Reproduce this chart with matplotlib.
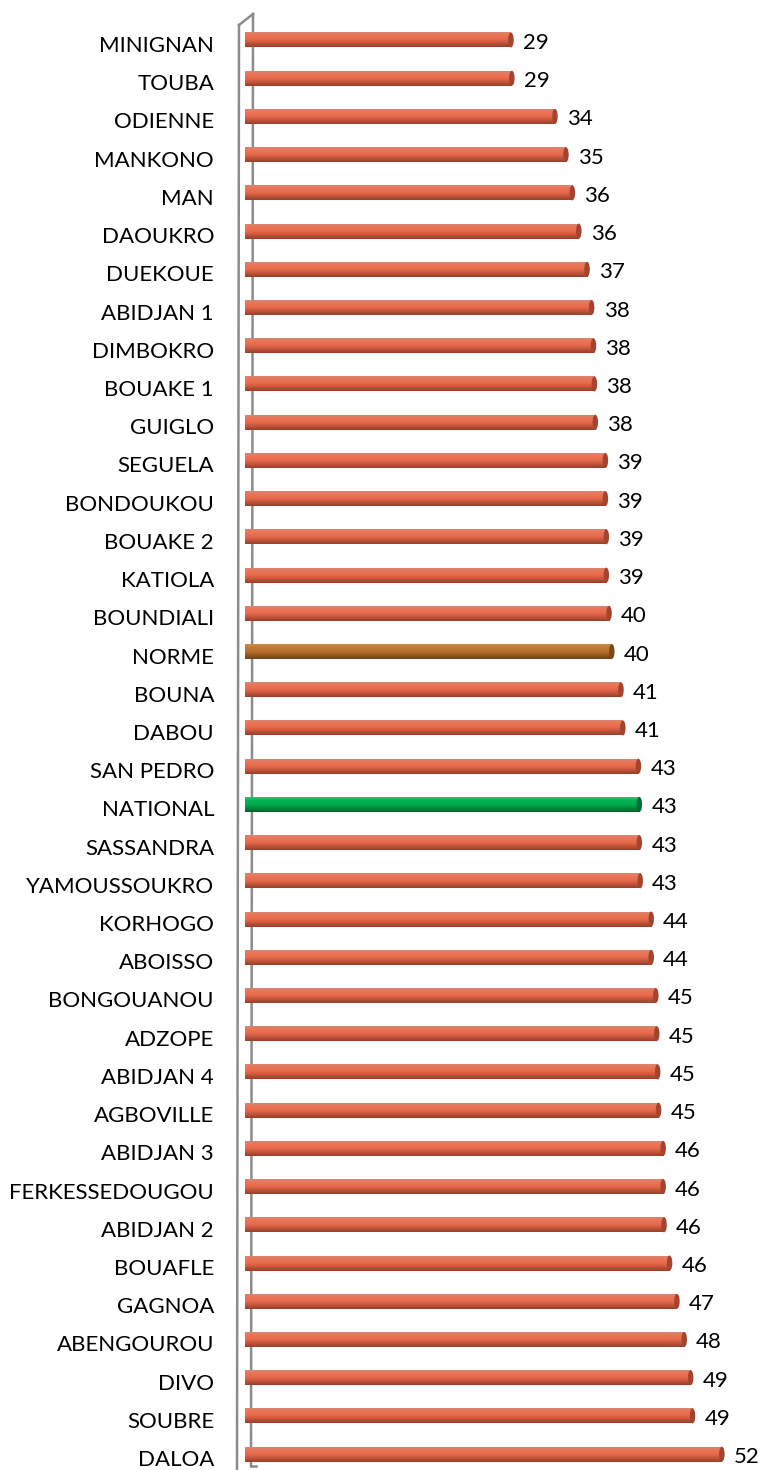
#!/usr/bin/env python3
"""
Horizontal cylinder-style bar chart of rates per district (Excel 3D look)
"""

import numpy as np
import matplotlib.pyplot as plt
from matplotlib.colors import LinearSegmentedColormap
from matplotlib.patches import Ellipse
from matplotlib.lines import Line2D
from matplotlib.transforms import blended_transform_factory

# Data (top to bottom)
districts = [
    'MINIGNAN', 'TOUBA', 'ODIENNE', 'MANKONO', 'MAN', 'DAOUKRO', 'DUEKOUE',
    'ABIDJAN 1', 'DIMBOKRO', 'BOUAKE 1', 'GUIGLO', 'SEGUELA', 'BONDOUKOU',
    'BOUAKE 2', 'KATIOLA', 'BOUNDIALI', 'NORME', 'BOUNA', 'DABOU', 'SAN PEDRO',
    'NATIONAL', 'SASSANDRA', 'YAMOUSSOUKRO', 'KORHOGO', 'ABOISSO', 'BONGOUANOU',
    'ADZOPE', 'ABIDJAN 4', 'AGBOVILLE', 'ABIDJAN 3', 'FERKESSEDOUGOU',
    'ABIDJAN 2', 'BOUAFLE', 'GAGNOA', 'ABENGOUROU', 'DIVO', 'SOUBRE', 'DALOA',
]
taux = [
    29.0, 29.1, 33.8, 35.0, 35.7, 36.4, 37.3,
    37.8, 38.0, 38.1, 38.2, 39.3, 39.3,
    39.4, 39.4, 39.7, 40.0, 41.0, 41.2, 42.9,
    43.0, 43.0, 43.1, 44.3, 44.3, 44.8,
    44.9, 45.0, 45.1, 45.6, 45.6,
    45.7, 46.3, 47.1, 47.9, 48.6, 48.8, 52.0,
]

# colour ramps (top highlight -> body -> shaded bottom) and end-cap colour
ramps = {
    'default': (['#dc8570', '#ec7253', '#e6694b', '#bf5339', '#96402b'], '#a4442f'),
    'NORME': (['#c98a4a', '#c37b35', '#b86f2c', '#935822', '#6a4218'], '#7a4a1a'),
    'NATIONAL': (['#35c070', '#00b452', '#00aa4c', '#00873c', '#00622c'], '#006b30'),
}

W, H = 761, 1470
px_per_unit = 9.17
x0_px = 245
row0_px, row_px = 40, 38.22
bar_px = 15

fig = plt.figure(figsize=(W / 100, H / 100), dpi=100)
ax = fig.add_axes([x0_px / W, 0, 1 - x0_px / W, 1])
ax.set_xlim(0, (W - x0_px) / px_per_unit)
ax.set_ylim((H - row0_px) / row_px, -row0_px / row_px)
ax.axis('off')

# 3D wall outline behind the bars
def fig_pt(x, y):
    return x / W, 1 - y / H

wall = [((239, 25), (237, 1470)), ((239, 25), (253, 14)),
        ((253, 14), (251, 1466)), ((251, 1466), (256, 1466))]
for (a, b) in wall:
    (xa, ya), (xb, yb) = fig_pt(*a), fig_pt(*b)
    fig.add_artist(Line2D([xa, xb], [ya, yb], color='#8c8c8c', lw=1.8,
                          transform=fig.transFigure, zorder=0))

h = bar_px / row_px
ypos = np.arange(len(districts))
bars = ax.barh(ypos, taux, height=h, color='none', edgecolor='none', zorder=2)

grad = np.linspace(0, 1, 64).reshape(-1, 1)
cap_w = 5.5 / px_per_unit
for i, (name, val, patch) in enumerate(zip(districts, taux, bars)):
    stops, cap = ramps.get(name, ramps['default'])
    cmap = LinearSegmentedColormap.from_list(name, stops)
    im = ax.imshow(grad, cmap=cmap, aspect='auto', interpolation='bilinear',
                   extent=[0, val, i + h / 2, i - h / 2], zorder=2)
    im.set_clip_path(patch)
    ax.add_patch(Ellipse((val, i), cap_w, h, facecolor=cap, edgecolor='none', zorder=3))

# restore limits after imshow
ax.set_xlim(0, (W - x0_px) / px_per_unit)
ax.set_ylim((H - row0_px) / row_px, -row0_px / row_px)

font = 'Lato'
trans = blended_transform_factory(ax.transAxes, ax.transData)
for i, (name, val) in enumerate(zip(districts, taux)):
    ax.annotate(name, xy=(0, i), xycoords=trans, xytext=(214 - x0_px, -6),
                textcoords='offset pixels', ha='right', va='center',
                fontsize=16, family=font, color='black', annotation_clip=False)
    ax.annotate(f'{val:.0f}', xy=(val, i), xytext=(12, -3),
                textcoords='offset pixels', ha='left', va='center',
                fontsize=16, family=font, color='black', annotation_clip=False)

plt.savefig('out.png', dpi=100)
